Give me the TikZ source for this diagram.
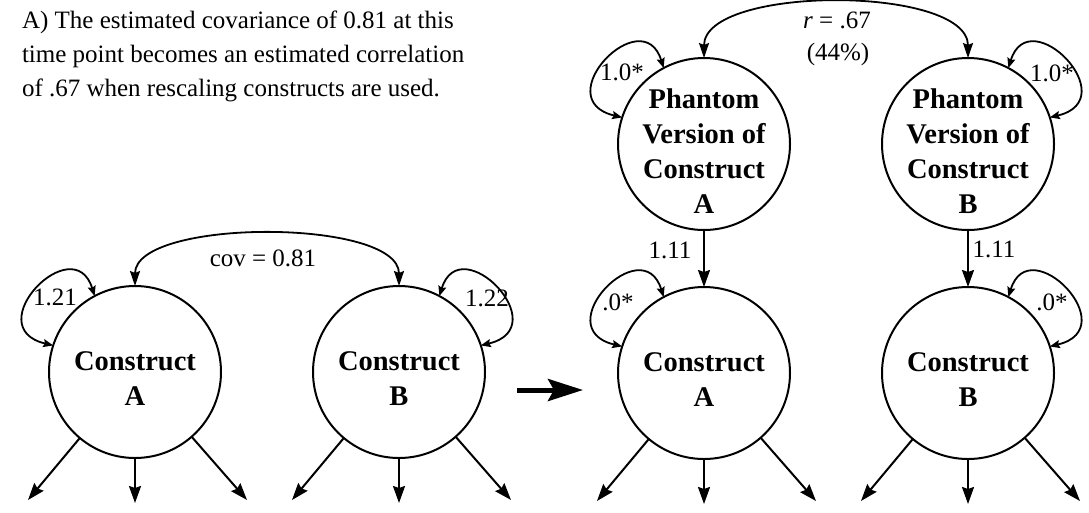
\documentclass[tikz,border=0pt]{standalone}
\usepackage{fontspec}
\setmainfont{Liberation Serif}
\usetikzlibrary{arrows.meta}
\begin{document}
\begin{tikzpicture}[x=1pt,y=-1pt,
  every node/.style={inner sep=0pt, outer sep=0pt},
  circ/.style={circle, draw, line width=2pt, minimum size=172pt},
  ctext/.style={anchor=north, align=center, font=\fontsize{28.5}{35}\selectfont\bfseries},
  lbl/.style={anchor=base, font=\fontsize{25}{34}\selectfont},
  arr/.style={-{Stealth[length=17pt,width=12pt,inset=2pt]}, line width=2pt},
  cdarr/.style={{Stealth[length=15pt,width=10pt,inset=2pt]}-{Stealth[length=15pt,width=10pt,inset=2pt]}, line width=1.8pt},
  ldarr/.style={{Stealth[length=10pt,width=8pt,inset=1.5pt]}-{Stealth[length=10pt,width=8pt,inset=1.5pt]}, line width=1.8pt},
  bigarr/.style={-{Stealth[length=35pt,width=22pt,inset=6pt]}, line width=5pt}]
\useasboundingbox (0,0) rectangle (1089,512);

% description
\node[anchor=north west, align=left, font=\fontsize{25}{34}\selectfont] (desc) at (22,11)
  {A) The estimated covariance of 0.81 at this\\time point becomes an estimated correlation\\of .67 when rescaling constructs are used.};

% circles
\node[circ] (LA) at (135,372) {};
\node[circ] (LB) at (399,372) {};
\node[circ] (PA) at (704,144) {};
\node[circ] (PB) at (968,144) {};
\node[circ] (RA) at (704,373) {};
\node[circ] (RB) at (968,373) {};

\node[ctext] (tLA) at (135,352) {Construct\\A};
\node[ctext] (tLB) at (399,352) {Construct\\B};
\node[ctext] (tPA) at (704,89) {Phantom\\Version of\\Construct\\A};
\node[ctext] (tPB) at (968,89) {Phantom\\Version of\\Construct\\B};
\node[ctext] (tRA) at (704,353) {Construct\\A};
\node[ctext] (tRB) at (968,353) {Construct\\B};

% labels
\node[lbl] (cov) at (263,266) {cov = 0.81};
\node[lbl] (v1) at (55,305) {1.21};
\node[lbl] (v2) at (487,306) {1.22};
\node[lbl] (rr) at (837,28) {\textit{r} = .67};
\node[lbl] (pct) at (838,60) {(44\%)};
\node[lbl] (pv1) at (622,80) {1.0*};
\node[lbl] (pv2) at (1052,81) {1.0*};
\node[lbl] (l1) at (670,258) {1.11};
\node[lbl] (l2) at (994,257) {1.11};
\node[lbl] (rv1) at (618,310) {.0*};
\node[lbl] (rv2) at (1052,310) {.0*};

% covariance / correlation curves
\draw[cdarr] (LA.north) .. controls +(0,-68) and +(0,-68) .. (LB.north);
\draw[cdarr] (PA.north) .. controls +(0,-73) and +(0,-73) .. (PB.north);

% self loops
\foreach \c in {LA,PA,RA} {
  \draw[ldarr] (\c.118) .. controls +(-21,-68) and +(-76,-18) .. (\c.162);
}
\foreach \c in {LB,PB,RB} {
  \draw[ldarr] (\c.62) .. controls +(21,-68) and +(76,-18) .. (\c.18);
}

% loadings
\draw[arr] (PA) -- (RA);
\draw[arr] (PB) -- (RB);

% indicator arrows
\foreach \c in {LA,LB,RA,RB} {
  \coordinate (\c-l) at ([shift={(-107,128)}]\c.center);
  \coordinate (\c-m) at ([shift={(0,131)}]\c.center);
  \coordinate (\c-r) at ([shift={(112,128)}]\c.center);
  \draw[arr] (\c) -- (\c-l);
  \draw[arr] (\c) -- (\c-m);
  \draw[arr] (\c) -- (\c-r);
}

% transition arrow
\coordinate (bigS) at (517,390);
\coordinate (bigE) at (583,390);
\draw[bigarr] (bigS) -- (bigE);
\end{tikzpicture}
\end{document}
